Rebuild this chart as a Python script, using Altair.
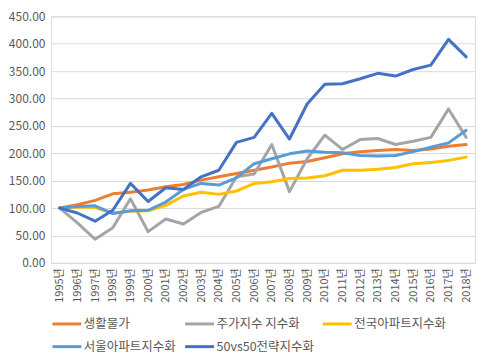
import altair as alt
import pandas as pd

years = [f"{y}년" for y in range(1995, 2019)]
series_names = ["생활물가", "주가지수 지수화", "전국아파트지수화", "서울아파트지수화", "50vs50전략지수화"]
colors = ["#ED7D31", "#A5A5A5", "#FFC000", "#5B9BD5", "#4472C4"]

living = [100, 106, 114, 126, 129, 133, 139, 143, 151, 157, 163, 169, 175, 182, 185, 192, 199, 203, 205, 207, 205, 208, 213, 216]
stock = [100, 73, 43, 64, 117, 57, 80, 71, 92, 103, 157, 162, 216, 130, 190, 233, 207, 225, 227, 216, 222, 229, 281, 229]
apt_nat = [100, 102, 101, 91, 94, 95, 105, 122, 129, 125, 131, 145, 148, 154, 155, 159, 169, 169, 171, 174, 181, 183, 187, 193]
apt_seoul = [100, 103, 104, 90, 95, 96, 111, 134, 145, 142, 155, 181, 190, 199, 204, 202, 201, 196, 195, 196, 203, 211, 219, 242]
strat = [100, 91, 76, 96, 145, 112, 137, 134, 157, 169, 220, 229, 273, 226, 290, 326, 327, 336, 346, 341, 353, 361, 408, 376]

all_series = [living, stock, apt_nat, apt_seoul, strat]
rows = []
for si, (name, vals) in enumerate(zip(series_names, all_series)):
    for yi, (yr, v) in enumerate(zip(years, vals)):
        rows.append({"연도": yr, "시리즈": name, "값": v, "order": si})
df = pd.DataFrame(rows)

FONT = "Noto Sans CJK KR"

chart = alt.Chart(df).mark_line(strokeWidth=3, strokeCap="round", strokeJoin="round").encode(
    x=alt.X("연도:O", sort=years, title=None,
            scale=alt.Scale(type="point", padding=0.5),
            axis=alt.Axis(labelAngle=-90, ticks=False, domain=False, grid=False,
                          labelFont=FONT, labelFontSize=11, labelColor="#595959", labelPadding=5)),
    y=alt.Y("값:Q", title=None,
            scale=alt.Scale(domain=[0, 450], nice=False),
            axis=alt.Axis(values=list(range(0, 451, 50)), format=".2f", ticks=False, domain=False,
                          gridColor="#D9D9D9", gridWidth=1,
                          labelFont=FONT, labelFontSize=12, labelColor="#595959", labelPadding=6)),
    color=alt.Color("시리즈:N", sort=series_names,
                    scale=alt.Scale(domain=series_names, range=colors),
                    legend=alt.Legend(orient="bottom", columns=3, title=None,
                                      symbolType="stroke", symbolSize=840, symbolStrokeWidth=3,
                                      labelFont=FONT, labelFontSize=12.5, labelColor="#595959",
                                      columnPadding=2, rowPadding=0, labelOffset=1,
                                      offset=5)),
    detail="order:N",
).properties(width=425, height=247, padding={"left": 0, "top": 2, "right": 3, "bottom": 0})

chart = chart.configure_view(stroke=None).configure(background="white")

chart.save("out.html", embed_options={"renderer": "svg", "actions": False})
